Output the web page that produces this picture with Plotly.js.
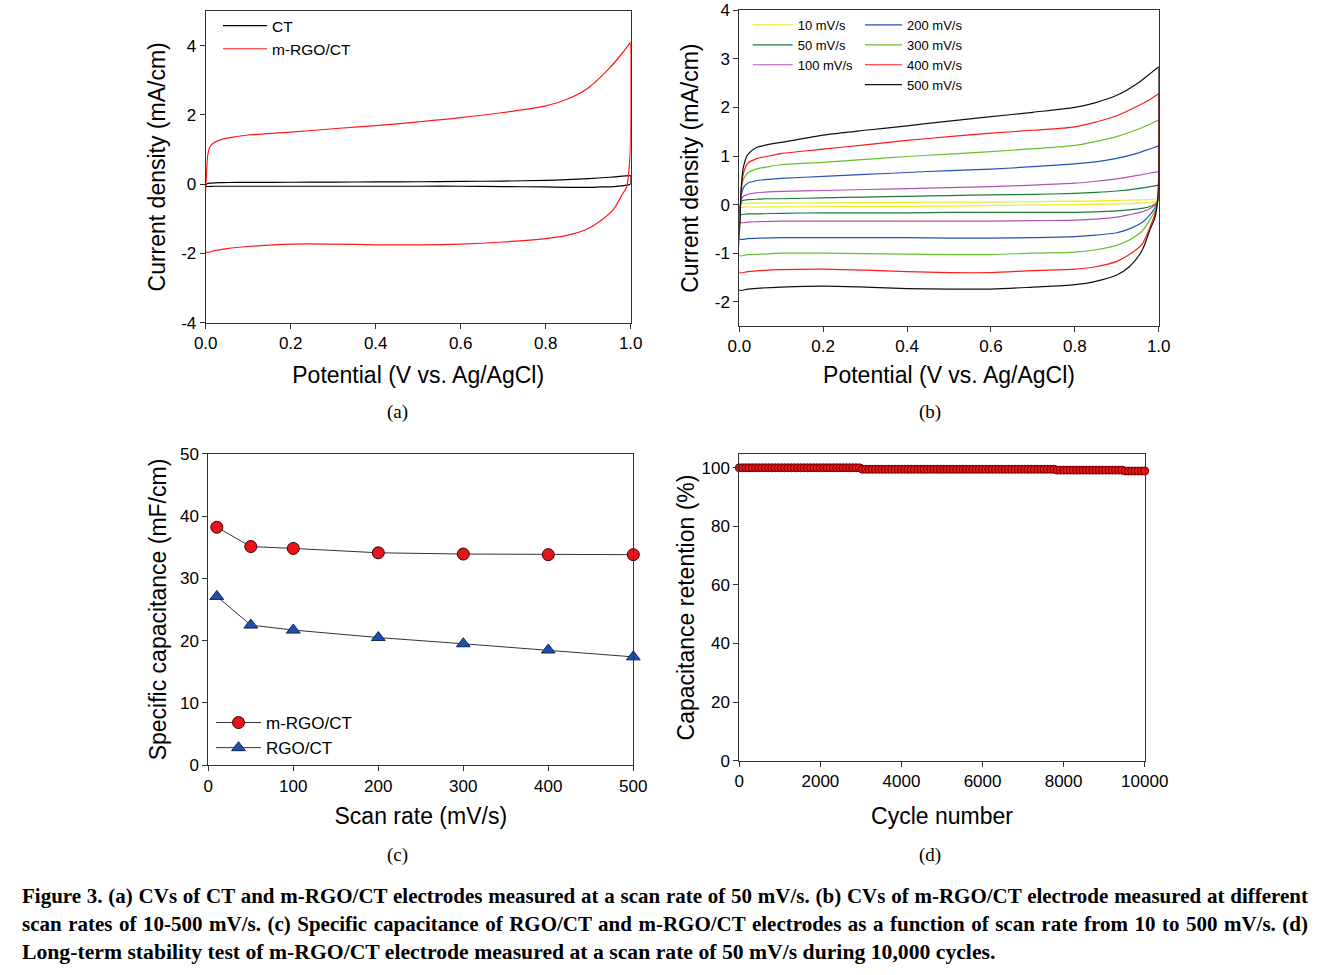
<!DOCTYPE html>
<html>
<head>
<meta charset="utf-8">
<script src="https://cdn.plot.ly/plotly-3.0.1.min.js"></script>
<style>
  html, body { margin: 0; padding: 0; background: #fff; }
  #wrap { position: relative; width: 1330px; height: 975px; }
  #chart { position: absolute; left: 0; top: 0; width: 1330px; height: 975px; }
  #caption { position: absolute; left: 22px; top: 882px; width: 1286px;
             font-family: "Liberation Serif", "Times New Roman", serif; font-weight: bold;
             font-size: 21px; line-height: 28px; color: #000; }
  .jl { text-align: justify; text-align-last: justify; white-space: nowrap; }
  .ll { text-align: left; white-space: nowrap; font-size: 21.7px; }
</style>
</head>
<body>
<div id="wrap">
  <div id="chart"></div>
  <div id="caption">
    <div class="jl">Figure 3. (a) CVs of CT and m-RGO/CT electrodes measured at a scan rate of 50 mV/s. (b) CVs of m-RGO/CT electrode measured at different</div>
    <div class="jl">scan rates of 10-500 mV/s. (c) Specific capacitance of RGO/CT and m-RGO/CT electrodes as a function of scan rate from 10 to 500 mV/s. (d)</div>
    <div class="ll">Long-term stability test of m-RGO/CT electrode measured at a scan rate of 50 mV/s during 10,000 cycles.</div>
  </div>
</div>
<script>
// ---------- shared potential grids (V vs. Ag/AgCl) ----------
const upV   = [0, 0.002, 0.005, 0.01, 0.02, 0.04, 0.07, 0.1, 0.2, 0.3, 0.4, 0.5, 0.6, 0.7, 0.8, 0.85, 0.9, 0.95, 0.98, 1.0];
const downV = [1.0, 0.999, 0.995, 0.99, 0.98, 0.96, 0.93, 0.9, 0.85, 0.8, 0.7, 0.6, 0.5, 0.4, 0.3, 0.2, 0.1, 0.05, 0.02, 0];

// ---------- panel (a): CVs at 50 mV/s ----------
const ctUp     = [-0.06, 0.0, 0.02, 0.03, 0.04, 0.045, 0.05, 0.05, 0.055, 0.06, 0.065, 0.07, 0.08, 0.09, 0.11, 0.13, 0.16, 0.2, 0.23, 0.25];
const ctDown   = [0.25, 0.0, -0.02, -0.03, -0.05, -0.07, -0.08, -0.09, -0.09, -0.08, -0.07, -0.06, -0.06, -0.06, -0.06, -0.06, -0.06, -0.06, -0.06, -0.06];
const mrgoUp   = [-1.96, 0.3, 0.85, 1.08, 1.2, 1.3, 1.37, 1.42, 1.5, 1.6, 1.69, 1.8, 1.92, 2.07, 2.26, 2.45, 2.78, 3.35, 3.78, 4.1];
const mrgoDown = [4.1, 1.0, 0.3, -0.1, -0.3, -0.72, -1.05, -1.28, -1.48, -1.57, -1.67, -1.73, -1.75, -1.75, -1.73, -1.73, -1.8, -1.86, -1.92, -1.96];

// ---------- panel (b): CVs of m-RGO/CT at different scan rates ----------
const rateNames  = ["10 mV/s", "50 mV/s", "100 mV/s", "200 mV/s", "300 mV/s", "400 mV/s", "500 mV/s"];
const rateColors = ["#eded20", "#1a7a3c", "#b452b4", "#2552b8", "#66c02e", "#ff1a1a", "#111111"];
const r10Up    = [-0.05, 0.0, 0.02, 0.025, 0.03, 0.03, 0.03, 0.03, 0.035, 0.04, 0.045, 0.05, 0.055, 0.06, 0.07, 0.075, 0.085, 0.095, 0.105, 0.12];
const r10Down  = [0.12, 0.08, 0.06, 0.05, 0.04, 0.03, 0.02, 0.015, 0.005, 0.0, -0.01, -0.02, -0.03, -0.035, -0.04, -0.045, -0.045, -0.05, -0.05, -0.05];
const r50Up    = [-0.2, -0.02, 0.06, 0.09, 0.1, 0.11, 0.12, 0.12, 0.14, 0.155, 0.17, 0.185, 0.2, 0.21, 0.23, 0.25, 0.28, 0.33, 0.37, 0.4];
const r50Down  = [0.4, 0.1, 0.04, 0.0, -0.04, -0.08, -0.11, -0.13, -0.15, -0.16, -0.16, -0.16, -0.16, -0.17, -0.17, -0.17, -0.18, -0.19, -0.19, -0.2];
const r100Up   = [-0.37, -0.05, 0.1, 0.17, 0.21, 0.24, 0.26, 0.27, 0.29, 0.31, 0.33, 0.35, 0.37, 0.4, 0.44, 0.48, 0.53, 0.6, 0.65, 0.68];
const r100Down = [0.68, 0.12, 0.03, -0.02, -0.08, -0.15, -0.21, -0.26, -0.3, -0.32, -0.33, -0.34, -0.34, -0.34, -0.34, -0.34, -0.34, -0.35, -0.36, -0.37];
const r200Up   = [-0.71, -0.1, 0.2, 0.35, 0.44, 0.49, 0.52, 0.54, 0.58, 0.62, 0.66, 0.7, 0.73, 0.78, 0.84, 0.88, 0.95, 1.06, 1.15, 1.21];
const r200Down = [1.21, 0.15, 0.0, -0.08, -0.2, -0.37, -0.5, -0.58, -0.63, -0.66, -0.68, -0.69, -0.69, -0.68, -0.68, -0.68, -0.68, -0.69, -0.7, -0.71];
const r300Up   = [-1.05, -0.15, 0.3, 0.52, 0.65, 0.73, 0.78, 0.82, 0.87, 0.93, 0.99, 1.04, 1.09, 1.15, 1.22, 1.3, 1.4, 1.55, 1.66, 1.74];
const r300Down = [1.74, 0.2, 0.0, -0.13, -0.3, -0.55, -0.73, -0.84, -0.93, -0.98, -1.0, -1.03, -1.03, -1.02, -1.01, -1.0, -1.0, -1.02, -1.03, -1.05];
const r400Up   = [-1.4, -0.2, 0.35, 0.65, 0.85, 0.94, 1.0, 1.05, 1.14, 1.23, 1.32, 1.4, 1.47, 1.53, 1.6, 1.7, 1.83, 2.03, 2.17, 2.28];
const r400Down = [2.28, 0.25, -0.05, -0.22, -0.45, -0.82, -1.03, -1.17, -1.28, -1.33, -1.36, -1.4, -1.4, -1.38, -1.35, -1.33, -1.34, -1.36, -1.38, -1.4];
const r500Up   = [-1.76, -0.3, 0.4, 0.78, 1.03, 1.17, 1.24, 1.28, 1.43, 1.53, 1.62, 1.72, 1.81, 1.9, 2.0, 2.1, 2.25, 2.5, 2.7, 2.84];
const r500Down = [2.84, 0.3, -0.1, -0.3, -0.5, -0.95, -1.28, -1.45, -1.58, -1.65, -1.7, -1.74, -1.74, -1.73, -1.7, -1.68, -1.7, -1.72, -1.74, -1.76];

// ---------- panel (c): specific capacitance vs scan rate ----------
const scanRates = [10, 50, 100, 200, 300, 400, 500];
const capMRGO   = [38.2, 35.1, 34.8, 34.1, 33.9, 33.8, 33.8];
const capRGO    = [27.1, 22.5, 21.7, 20.5, 19.5, 18.5, 17.4];

// ---------- panel (d): cycling stability ----------
const cycles = [
  0, 80, 160, 240, 320, 400, 480, 560, 640, 720,
  800, 880, 960, 1040, 1120, 1200, 1280, 1360, 1440, 1520,
  1600, 1680, 1760, 1840, 1920, 2000, 2080, 2160, 2240, 2320,
  2400, 2480, 2560, 2640, 2720, 2800, 2880, 2960,
  3040, 3120, 3200, 3280, 3360, 3440, 3520, 3600, 3680, 3760,
  3840, 3920, 4000, 4080, 4160, 4240, 4320, 4400, 4480, 4560,
  4640, 4720, 4800, 4880, 4960, 5040, 5120, 5200, 5280, 5360,
  5440, 5520, 5600, 5680, 5760, 5840, 5920, 6000, 6080, 6160,
  6240, 6320, 6400, 6480, 6560, 6640, 6720, 6800, 6880, 6960,
  7040, 7120, 7200, 7280, 7360, 7440, 7520, 7600, 7680, 7760,
  7840, 7920, 8000, 8080, 8160, 8240, 8320, 8400, 8480, 8560,
  8640, 8720, 8800, 8880, 8960, 9040, 9120, 9200, 9280, 9360,
  9440,
  9520, 9600, 9680, 9760, 9840, 9920, 10000
];
const retention = [
  100, 100, 100, 100, 100, 100, 100, 100, 100, 100,
  100, 100, 100, 100, 100, 100, 100, 100, 100, 100,
  100, 100, 100, 100, 100, 100, 100, 100, 100, 100,
  100, 100, 100, 100, 100, 100, 100, 100,
  99.5, 99.5, 99.5, 99.5, 99.5, 99.5, 99.5, 99.5, 99.5, 99.5,
  99.5, 99.5, 99.5, 99.5, 99.5, 99.5, 99.5, 99.5, 99.5, 99.5,
  99.5, 99.5, 99.5, 99.5, 99.5, 99.5, 99.5, 99.5, 99.5, 99.5,
  99.5, 99.5, 99.5, 99.5, 99.5, 99.5, 99.5, 99.5, 99.5, 99.5,
  99.5, 99.5, 99.5, 99.5, 99.5, 99.5, 99.5, 99.5, 99.5, 99.5,
  99.5, 99.5, 99.5, 99.5, 99.5, 99.5, 99.5, 99.5, 99.5, 99.5,
  99.2, 99.2, 99.2, 99.2, 99.2, 99.2, 99.2, 99.2, 99.2, 99.2,
  99.2, 99.2, 99.2, 99.2, 99.2, 99.2, 99.2, 99.2, 99.2, 99.2,
  99.2,
  98.9, 98.9, 98.9, 98.9, 98.9, 98.9, 98.9
];

// ---------- tick labels (hyphen minus as in the figure) ----------
const yTicksA = [-4, -2, 0, 2, 4];
const yTextA  = ["-4", "-2", "0", "2", "4"];
const yTicksB = [-2, -1, 0, 1, 2, 3, 4];
const yTextB  = ["-2", "-1", "0", "1", "2", "3", "4"];

// ---------- build traces ----------
const loopX = upV.concat(downV);
const FONT = "Liberation Sans, Arial, sans-serif";
const CVLINE = {width: 1.2, shape: "spline", smoothing: 0.8};

const traces = [];
traces.push({x: loopX, y: ctUp.concat(ctDown), name: "CT", type: "scatter", mode: "lines",
  line: Object.assign({color: "#000000"}, CVLINE), xaxis: "x", yaxis: "y", legend: "legend"});
traces.push({x: loopX, y: mrgoUp.concat(mrgoDown), name: "m-RGO/CT", type: "scatter", mode: "lines",
  line: Object.assign({color: "#ff1a1a"}, CVLINE), xaxis: "x", yaxis: "y", legend: "legend"});

const rateUps   = [r10Up, r50Up, r100Up, r200Up, r300Up, r400Up, r500Up];
const rateDowns = [r10Down, r50Down, r100Down, r200Down, r300Down, r400Down, r500Down];
for (let i = 0; i < rateNames.length; i++) {
  traces.push({x: loopX, y: rateUps[i].concat(rateDowns[i]), name: rateNames[i], type: "scatter", mode: "lines",
    line: Object.assign({color: rateColors[i]}, CVLINE), xaxis: "x2", yaxis: "y2",
    legend: i < 3 ? "legend2" : "legend3"});
}

traces.push({x: scanRates, y: capMRGO, name: "m-RGO/CT", type: "scatter", mode: "lines+markers",
  line: {color: "#333333", width: 1}, marker: {symbol: "circle", size: 12, color: "#e8141c", line: {color: "#3a0000", width: 1}},
  cliponaxis: false, xaxis: "x3", yaxis: "y3", legend: "legend4"});
traces.push({x: scanRates, y: capRGO, name: "RGO/CT", type: "scatter", mode: "lines+markers",
  line: {color: "#333333", width: 1}, marker: {symbol: "triangle-up", size: 12, color: "#1f4fa8", line: {color: "#0d2860", width: 1}},
  cliponaxis: false, xaxis: "x3", yaxis: "y3", legend: "legend4"});

traces.push({x: cycles, y: retention, name: "retention", type: "scatter", mode: "markers",
  marker: {symbol: "circle", size: 8, color: "#ee1414", line: {color: "#6a0000", width: 1}},
  cliponaxis: false, showlegend: false, xaxis: "x4", yaxis: "y4"});

// ---------- axes ----------
function ax(extra) {
  return Object.assign({
    showgrid: false, zeroline: false, showline: true, mirror: true,
    linecolor: "#333333", linewidth: 1,
    ticks: "outside", ticklen: 5, tickwidth: 1, tickcolor: "#333333",
    tickfont: {family: FONT, size: 17, color: "#000"},
    automargin: false
  }, extra);
}
function ttl(t, standoff) {
  return {text: t, font: {family: FONT, size: 23, color: "#000"}, standoff: standoff};
}
const H = 975, W = 1330;
function dx(a, b) { return [a / W, b / W]; }
function dy(top, bottom) { return [1 - bottom / H, 1 - top / H]; }

const layout = {
  width: W, height: H, autosize: false,
  margin: {l: 0, r: 0, t: 0, b: 0, pad: 0},
  paper_bgcolor: "#ffffff", plot_bgcolor: "#ffffff",
  font: {family: FONT, color: "#000"},
  xaxis:  ax({domain: dx(205.7, 630.7), anchor: "y", range: [0, 1], dtick: 0.2, tick0: 0, tickformat: ".1f",
              title: ttl("Potential (V vs. Ag/AgCl)", 14)}),
  yaxis:  ax({domain: dy(11, 322.7), anchor: "x", range: [-4, 5], tickvals: yTicksA, ticktext: yTextA,
              title: ttl("Current density (mA/cm)", 9)}),
  xaxis2: ax({domain: dx(739.3, 1158.7), anchor: "y2", range: [0, 1], dtick: 0.2, tick0: 0, tickformat: ".1f",
              title: ttl("Potential (V vs. Ag/AgCl)", 11)}),
  yaxis2: ax({domain: dy(10.3, 326), anchor: "x2", range: [-2.5, 4], tickvals: yTicksB, ticktext: yTextB,
              title: ttl("Current density (mA/cm)", 9)}),
  xaxis3: ax({domain: dx(208.3, 633.3), anchor: "y3", range: [0, 500], dtick: 100, tick0: 0,
              title: ttl("Scan rate (mV/s)", 13)}),
  yaxis3: ax({domain: dy(453.7, 765.3), anchor: "x3", range: [0, 50], dtick: 10, tick0: 0,
              title: ttl("Specific capacitance (mF/cm)", 6)}),
  xaxis4: ax({domain: dx(739.3, 1144.7), anchor: "y4", range: [0, 10000], dtick: 2000, tick0: 0, tickformat: "d",
              title: ttl("Cycle number", 17)}),
  yaxis4: ax({domain: dy(454.3, 760.7), anchor: "x4", range: [0, 104.6], dtick: 20, tick0: 0,
              title: ttl("Capacitance retention (%)", 0)}),
  showlegend: true,
  legend:  {x: 218 / W, y: 1 - 9 / H, xanchor: "left", yanchor: "top", bgcolor: "rgba(0,0,0,0)",
            borderwidth: 0, font: {family: FONT, size: 15.5, color: "#000"}, itemwidth: 44, traceorder: "normal"},
  legend2: {x: 747.7 / W, y: 1 - 10 / H, xanchor: "left", yanchor: "top", bgcolor: "rgba(0,0,0,0)",
            borderwidth: 0, font: {family: FONT, size: 13, color: "#000"}, itemwidth: 40, traceorder: "normal"},
  legend3: {x: 860 / W, y: 1 - 10 / H, xanchor: "left", yanchor: "top", bgcolor: "rgba(0,0,0,0)",
            borderwidth: 0, font: {family: FONT, size: 13, color: "#000"}, itemwidth: 37, traceorder: "normal"},
  legend4: {x: 211 / W, y: 1 - 705 / H, xanchor: "left", yanchor: "top", bgcolor: "rgba(0,0,0,0)",
            borderwidth: 0, font: {family: FONT, size: 17, color: "#000"}, itemwidth: 45, traceorder: "normal"},
  annotations: [
    {text: "(a)", xref: "paper", yref: "paper", x: 397.7 / W, y: 1 - 412 / H, showarrow: false, xanchor: "center", yanchor: "middle",
     font: {family: "Liberation Serif, Times New Roman, serif", size: 19, color: "#000"}},
    {text: "(b)", xref: "paper", yref: "paper", x: 930 / W, y: 1 - 412 / H, showarrow: false, xanchor: "center", yanchor: "middle",
     font: {family: "Liberation Serif, Times New Roman, serif", size: 19, color: "#000"}},
    {text: "(c)", xref: "paper", yref: "paper", x: 397.7 / W, y: 1 - 855 / H, showarrow: false, xanchor: "center", yanchor: "middle",
     font: {family: "Liberation Serif, Times New Roman, serif", size: 19, color: "#000"}},
    {text: "(d)", xref: "paper", yref: "paper", x: 930 / W, y: 1 - 855 / H, showarrow: false, xanchor: "center", yanchor: "middle",
     font: {family: "Liberation Serif, Times New Roman, serif", size: 19, color: "#000"}}
  ]
};

Plotly.newPlot("chart", traces, layout, {staticPlot: true, displayModeBar: false});
</script>
</body>
</html>
